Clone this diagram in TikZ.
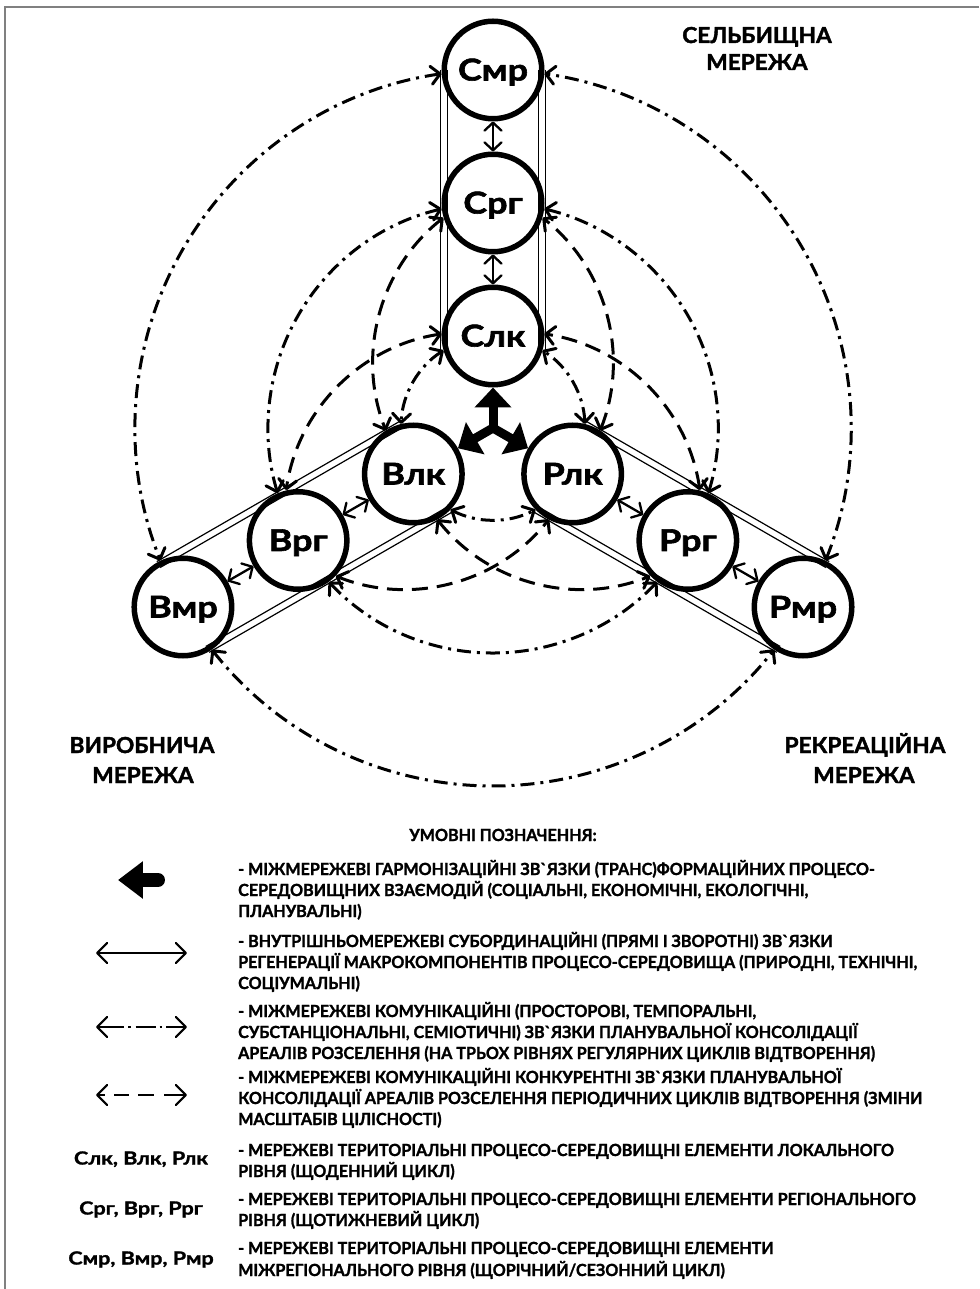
\documentclass[tikz,border=0pt]{standalone}
\usepackage{fontspec}
\setmainfont{Lato}
\newfontfamily\fwide{Lato}[FakeStretch=1.2, BoldFeatures={FakeBold=2}]
\newfontfamily\fsym{Lato}[FakeStretch=1.2, BoldFeatures={FakeBold=1.5}]
\newfontfamily\fmid{Lato}[FakeStretch=1.03, BoldFeatures={FakeBold=1.8}]
\newfontfamily\fnarrow{Lato}[FakeStretch=0.965, BoldFeatures={FakeBold=1.5}]
\usetikzlibrary{arrows.meta,calc}
\begin{document}
\begin{tikzpicture}[x=1pt,y=1pt,
  nd/.style={circle,draw,line width=5.5pt,minimum size=97.5pt,inner sep=0pt,outer sep=2.75pt,
     font=\fwide\bfseries\fontsize{30}{32}\selectfont,text height=21pt,text depth=0pt},
  sub/.style={line width=2.3pt,line cap=round,>={Straight Barb[length=8pt,width=17pt,round]},<->},
  dd/.style={line width=3pt,dash pattern=on 14pt off 6pt on 3pt off 6pt,
     >={Straight Barb[length=9pt,width=18pt,round]},<->},
  dsh/.style={line width=3pt,dash pattern=on 16pt off 9pt,
     >={Straight Barb[length=9pt,width=18pt,round]},<->},
  lgar/.style={line width=2.2pt,line cap=round,>={Straight Barb[length=10pt,width=20pt,round]},<->},
  tang/.style={line width=1.2pt},
  big/.style={line width=9pt,line cap=round,-{Triangle[length=20pt,width=36pt]}},
  ttl/.style={font=\fmid\bfseries\fontsize{22}{24}\selectfont,inner sep=0pt,text height=16pt,text depth=0pt},
  lg/.style={font=\fnarrow\bfseries\fontsize{16.7}{18}\selectfont,anchor=west,inner sep=0pt,text height=12pt,text depth=0pt},
  lgc/.style={font=\fnarrow\bfseries\fontsize{16.7}{18}\selectfont,inner sep=0pt,text height=12pt,text depth=0pt},
  sym/.style={font=\fsym\bfseries\fontsize{18}{20}\selectfont,inner sep=0pt,text height=13pt,text depth=0pt},
  frame/.style={black!50,line width=1.5pt}
]
\useasboundingbox (-493,-861) rectangle (486,428);
\draw[frame] (486,421) -- (-488,421) -- (-488,-861);

\coordinate (O) at (0,0);
% nodes
\node[nd] (Smr) at (90:358) {Смр};
\node[nd] (Srg) at (90:225) {Срг};
\node[nd] (Slk) at (90:92) {Слк};
\node[nd] (Vmr) at (210:358) {Вмр};
\node[nd] (Vrg) at (210:225) {Врг};
\node[nd] (Vlk) at (210:92) {Влк};
\node[nd] (Rmr) at (330:358) {Рмр};
\node[nd] (Rrg) at (330:225) {Ррг};
\node[nd] (Rlk) at (330:92) {Рлк};

% tangent double lines along each arm
\foreach \a/\m/\l in {90/Smr/Slk, 210/Vmr/Vlk, 330/Rmr/Rlk}{
  \foreach \s in {90,-90}{
    \foreach \d in {45.6,52.4}{
      \draw[tang] ($(\m.center)+({\a+\s}:\d)$) -- ($(\l.center)+({\a+\s}:\d)+({\a+180}:14)$);
    }
  }
}

% subordination arrows
\draw[sub] (Smr) -- (Srg);
\draw[sub] (Srg) -- (Slk);
\draw[sub] (Vmr) -- (Vrg);
\draw[sub] (Vrg) -- (Vlk);
\draw[sub] (Rmr) -- (Rrg);
\draw[sub] (Rrg) -- (Rlk);

% ring (dash-dot) arcs
\foreach \r/\s/\e in {358/98.25/201.75, 358/-21.75/81.75, 358/218.25/321.75,
                      225/103.14/196.86, 225/-16.86/76.86, 225/223.14/316.86,
                      92/122.5/177.5, 92/2.5/57.5, 92/242.5/297.5}{
  \draw[dd] ($(O)+(\s:\r)$) arc[start angle=\s, end angle=\e, radius=\r];
}

% concurrent (dashed) arcs
\foreach \c/\s/\e in {15/218.5/291.7, 165/248.3/321.5, 135/338.5/411.7,
                      255/98.5/171.7, 285/8.3/81.5, 45/128.3/201.5}{
  \draw[dsh] ($(O)+(\c:92)+(\s:185)$) arc[start angle=\s, end angle=\e, radius=185];
}

% central harmonisation arrows
\draw[big] (O) -- (Slk);
\draw[big] (O) -- (Vlk);
\draw[big] (O) -- (Rlk);

% network titles
\node[ttl] (t1a) at (264,393) {СЕЛЬБИЩНА};
\node[ttl] (t1b) at (264,366) {МЕРЕЖА};
\node[ttl] (t2a) at (-351,-317) {ВИРОБНИЧА};
\node[ttl] (t2b) at (-350,-347) {МЕРЕЖА};
\node[ttl] (t3a) at (372,-317) {РЕКРЕАЦІЙНА};
\node[ttl] (t3b) at (371,-347) {МЕРЕЖА};

% legend
\node[lgc] (lgt) at (10,-407) {УМОВНІ ПОЗНАЧЕННЯ:};

\coordinate (la1) at (-335,-452);
\coordinate (la0) at (-375,-452);
\draw[line width=14pt,line cap=round,-{Triangle[length=25pt,width=36pt]}] (la1) -- (la0);

\coordinate (lb0) at (-397,-525); \coordinate (lb1) at (-306,-525);
\draw[lgar] (lb0) -- (lb1);
\coordinate (lc0) at (-397,-599); \coordinate (lc1) at (-306,-599);
\draw[lgar,line cap=butt,
  dash pattern=on 26pt off 4pt on 2.5pt off 5pt on 20pt off 4pt on 2.5pt off 4pt on 40pt] (lc0) -- (lc1);
\coordinate (ld0) at (-397,-667); \coordinate (ld1) at (-306,-667);
\draw[lgar,line cap=butt,
  dash pattern=on 7pt off 9pt on 15pt off 9pt on 16pt off 10pt on 40pt] (ld0) -- (ld1);

\node[sym] (s1) at (-352,-730) {Слк, Влк, Рлк};
\node[sym] (s2) at (-352,-780) {Срг, Врг, Ррг};
\node[sym] (s3) at (-352,-830) {Смр, Вмр, Рмр};

\node[lg] (g11) at (-255,-441) {- МІЖМЕРЕЖЕВІ ГАРМОНІЗАЦІЙНІ ЗВ`ЯЗКИ (ТРАНС)ФОРМАЦІЙНИХ ПРОЦЕСО-};
\node[lg] (g12) at (-255,-462) {СЕРЕДОВИЩНИХ ВЗАЄМОДІЙ (СОЦІАЛЬНІ, ЕКОНОМІЧНІ, ЕКОЛОГІЧНІ,};
\node[lg] (g13) at (-255,-483) {ПЛАНУВАЛЬНІ)};
\node[lg] (g21) at (-255,-513) {- ВНУТРІШНЬОМЕРЕЖЕВІ СУБОРДИНАЦІЙНІ (ПРЯМІ І ЗВОРОТНІ) ЗВ`ЯЗКИ};
\node[lg] (g22) at (-255,-534) {РЕГЕНЕРАЦІЇ МАКРОКОМПОНЕНТІВ ПРОЦЕСО-СЕРЕДОВИЩА (ПРИРОДНІ, ТЕХНІЧНІ,};
\node[lg] (g23) at (-255,-555) {СОЦІУМАЛЬНІ)};
\node[lg] (g31) at (-255,-583) {- МІЖМЕРЕЖЕВІ КОМУНІКАЦІЙНІ (ПРОСТОРОВІ, ТЕМПОРАЛЬНІ,};
\node[lg] (g32) at (-255,-604) {СУБСТАНЦІОНАЛЬНІ, СЕМІОТИЧНІ) ЗВ`ЯЗКИ ПЛАНУВАЛЬНОЇ КОНСОЛІДАЦІЇ};
\node[lg] (g33) at (-255,-625) {АРЕАЛІВ РОЗСЕЛЕННЯ (НА ТРЬОХ РІВНЯХ РЕГУЛЯРНИХ ЦИКЛІВ ВІДТВОРЕННЯ)};
\node[lg] (g41) at (-255,-649) {- МІЖМЕРЕЖЕВІ КОМУНІКАЦІЙНІ КОНКУРЕНТНІ ЗВ`ЯЗКИ ПЛАНУВАЛЬНОЇ};
\node[lg] (g42) at (-255,-670) {КОНСОЛІДАЦІЇ АРЕАЛІВ РОЗСЕЛЕННЯ ПЕРІОДИЧНИХ ЦИКЛІВ ВІДТВОРЕННЯ (ЗМІНИ};
\node[lg] (g43) at (-255,-691) {МАСШТАБІВ ЦІЛІСНОСТІ)};
\node[lg] (g51) at (-255,-722) {- МЕРЕЖЕВІ ТЕРИТОРІАЛЬНІ ПРОЦЕСО-СЕРЕДОВИЩНІ ЕЛЕМЕНТИ ЛОКАЛЬНОГО};
\node[lg] (g52) at (-255,-743) {РІВНЯ (ЩОДЕННИЙ ЦИКЛ)};
\node[lg] (g61) at (-255,-771) {- МЕРЕЖЕВІ ТЕРИТОРІАЛЬНІ ПРОЦЕСО-СЕРЕДОВИЩНІ ЕЛЕМЕНТИ РЕГІОНАЛЬНОГО};
\node[lg] (g62) at (-255,-792) {РІВНЯ (ЩОТИЖНЕВИЙ ЦИКЛ)};
\node[lg] (g71) at (-255,-820) {- МЕРЕЖЕВІ ТЕРИТОРІАЛЬНІ ПРОЦЕСО-СЕРЕДОВИЩНІ ЕЛЕМЕНТИ};
\node[lg] (g72) at (-255,-842) {МІЖРЕГІОНАЛЬНОГО РІВНЯ (ЩОРІЧНИЙ/СЕЗОННИЙ ЦИКЛ)};
\end{tikzpicture}
\end{document}
